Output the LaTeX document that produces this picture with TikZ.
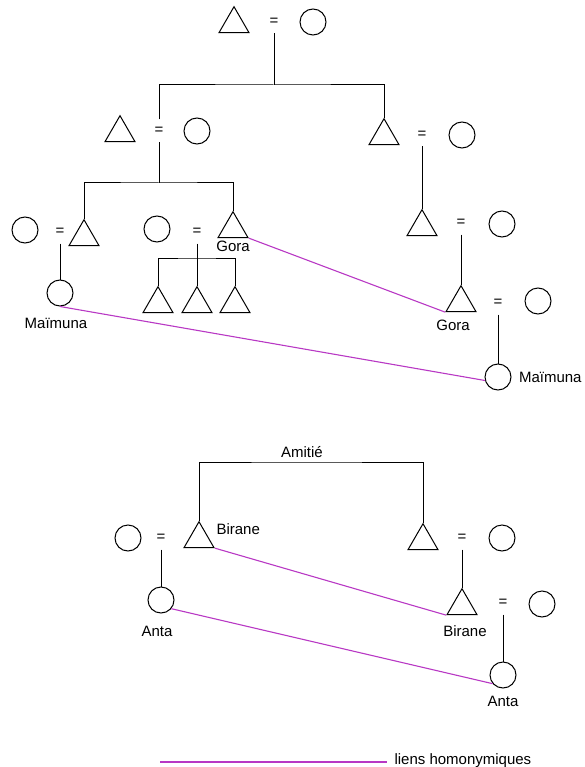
\documentclass[tikz,border=0pt]{standalone}
\usepackage{fontspec}
\setmainfont{Liberation Sans}
\usetikzlibrary{shapes.geometric,positioning}

\definecolor{homocol}{RGB}{184,56,196}

\tikzset{
	tri/.style={draw, regular polygon, regular polygon sides=3, minimum size=34.6pt, inner sep=0pt},
	circ/.style={draw, circle, minimum size=26pt, inner sep=0pt},
	eq/.style={minimum height=22pt, inner sep=0pt},
	lbl/.style={inner sep=1pt},
	homo/.style={draw=homocol, line width=1.1pt},
}

\begin{document}
\begin{tikzpicture}[x=1pt, y=-1pt, line width=1pt, font=\fontsize{15}{18}\selectfont]
				\useasboundingbox (0,0) rectangle (585,767);
				
				\node[tri]                               (t0) at (234,24) {};
				\node[eq]                               (e0) at (274,22) {=};
				\node[circ]                               (c0) at (313,22) {};
				\coordinate (f0) at (274,85);
				
				\node[tri]                               (t1) at (120,133) {};
				\node[eq]                               (e1) at (159,131) {=};
				\node[circ]                               (c1) at (197,131) {};
				
				\node[tri]                               (t2) at (384,136) {};
				\node[eq]                               (e2) at (422,135) {=};
				\node[circ]                               (c2) at (462,135) {};
				
				\draw (e0) -- (f0);
				\draw (e1) |- (f0) -| (t2);
				
				\coordinate (f1) at (159,183);
				
				\node[circ]                               (c3) at (25,230) {};
				\node[eq]                               (e3) at (60,232) {=};
				\node[tri]                               (t3) at (84,237) {};
				\node[circ]                               (maimuna1) at (60,293) {};
				\node[lbl, below=10pt of maimuna1, xshift=-4pt]                               {Maïmuna};
				
				\node[circ]                               (c5) at (157,229) {};
				\node[eq]                               (e5) at (197,232) {=};
				\node[tri]                               (gora1) at (233,229) {};
				\node[lbl, below=1pt of gora1]                               {Gora};
				
				\draw (e1) -- (f1);
				\draw (t3) |- (f1) -| (gora1);
				\draw (e3) -- (maimuna1);
				
				\coordinate (f5) at (197,258);
				\node[tri]                               (k1) at (158,304) {};
				\node[tri]                               (k2) at (197,304) {};
				\node[tri]                               (k3) at (235,304) {};
				
				\draw (e5) -- (f5);
				\draw (k1) |- (f5) -| (k3);
				\draw (f5) -- (k2);
				
				\node[tri]                               (t9) at (422,227) {};
				\node[eq]                               (e9) at (461,223) {=};
				\node[circ]                               (c9) at (502,224) {};
				
				\node[tri]                               (gora2) at (461,303) {};
				\node[lbl, below=6pt of gora2, xshift=-8pt]                               {Gora};
				\node[eq]                               (e10) at (498,303) {=};
				\node[circ]                               (c10) at (538,301) {};
				
				\node[circ]                               (maimuna2) at (498,377) {};
				\node[lbl, right=6pt of maimuna2]                               {Maïmuna};
				
				\draw (e2) -- (t9);
				\draw (e9) -- (gora2);
				\draw (e10) -- (maimuna2);
				
				\draw[homo] (gora1.corner 3) -- (gora2.corner 2); %
				\draw[homo] (maimuna1.south) -- (maimuna2.195); %
				
				\coordinate (a1) at (302,462);
				\node[lbl, above=3pt of a1]                               {Amitié};
				
				\node[circ]                               (c12) at (128,538) {};
				\node[eq]                               (e12) at (161,538) {=};
				\node[tri]                               (birane1) at (199,539) {};
				\node[lbl, anchor=west]                               at (215,529) {Birane};
				
				\node[tri]                               (t13) at (423,541) {};
				\node[eq]                               (e13) at (462,538) {=};
				\node[circ]                               (c13) at (502,538) {};
				
				\draw (birane1) |- (a1) -| (t13);
				
				\node[circ]                               (anta1) at (161,600) {};
				\node[lbl, below=11pt of anta1, xshift=-4pt]                               {Anta};
				
				\node[tri]                               (birane2) at (462,606) {};
				\node[lbl, below=9pt of birane2, xshift=3pt]                               {Birane};
				\node[eq]                               (e15) at (503,603) {=};
				\node[circ]                               (c15) at (542,604) {};
				
				\node[circ]                               (anta2) at (503,675) {};
				\node[lbl, below=6pt of anta2]                               {Anta};
				
				\draw (e12) -- (anta1);
				\draw (e13) -- (birane2);
				\draw (e15) -- (anta2);
				
				\draw[homo] (birane1.corner 3) -- (birane2.corner 2); %
				\draw[homo] (anta1.-40) -- (anta2.220); %
				
				\coordinate (l0) at (160,762);
				\coordinate (l1) at (387,762);
				\draw[homo] (l0) -- (l1);
				\node[lbl, anchor=west]                               (leg) at (393,761) {liens homonymiques};
				
			\end{tikzpicture}
\end{document}
